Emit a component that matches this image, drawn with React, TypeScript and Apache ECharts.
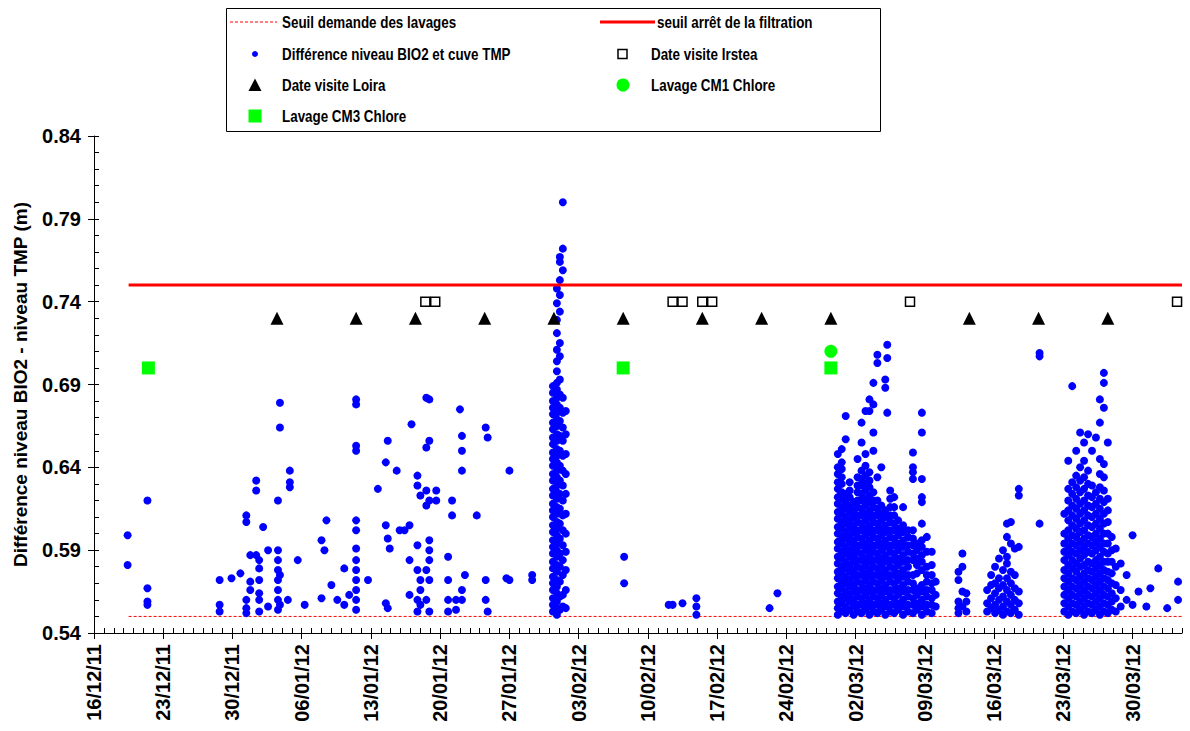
import { useEffect, useRef } from "react";
import * as echarts from "echarts";

// ---------- axes ----------
const X_MIN = 0; // days since 16/12/11
const X_MAX = 110; // 04/04/12
const Y_MIN = 0.54;
const Y_MAX = 0.84;
const xTickLabels = [
  "16/12/11", "23/12/11", "30/12/11", "06/01/12", "13/01/12", "20/01/12", "27/01/12", "03/02/12",
  "10/02/12", "17/02/12", "24/02/12", "02/03/12", "09/03/12", "16/03/12", "23/03/12", "30/03/12",
];
const xTickDays = [0, 7, 14, 21, 28, 35, 42, 49, 56, 63, 70, 77, 84, 91, 98, 105];
const yTickValues = [0.54, 0.59, 0.64, 0.69, 0.74, 0.79, 0.84];

// ---------- thresholds ----------
const seuilDemande = 0.55;
const seuilArret = 0.75;
const seuilStartDay = 3.5;

// ---------- events ----------
const loiraDays = [18.5, 26.5, 32.5, 39.5, 46.5, 53.5, 61.5, 67.5, 74.5, 88.5, 95.5, 102.5];
const loiraValue = 0.73;
const irsteaDays = [33.5, 34.5, 58.5, 59.5, 61.5, 62.5, 82.5, 109.5];
const irsteaValue = 0.74;
const cm1Days = [74.5];
const cm1Value = 0.71;
const cm3Days = [5.5, 53.5, 74.5];
const cm3Value = 0.7;

// ---------- BIO2 - TMP level difference: [day, values at that day] ----------
const bio2Dec: [number, number[]][] = [
  [3.4, [0.599, 0.581]],
  [5.4, [0.62, 0.567, 0.559, 0.557]],
  [12.7, [0.572, 0.557, 0.553]],
  [13.9, [0.573]],
  [14.8, [0.576]],
];

const bio2Jan: [number, number[]][] = [
  [15.4, [0.611, 0.607, 0.56, 0.555, 0.552]],
  [15.8, [0.587, 0.566, 0.571]],
  [16.4, [0.632, 0.626, 0.587]],
  [16.7, [0.579, 0.572, 0.584, 0.56, 0.553, 0.564]],
  [17.1, [0.604]],
  [17.6, [0.59, 0.556]],
  [18.6, [0.62, 0.59, 0.584, 0.578, 0.572, 0.566, 0.56, 0.554]],
  [18.8, [0.679, 0.664, 0.575, 0.557]],
  [19.6, [0.56]],
  [19.8, [0.638, 0.631, 0.628]],
  [20.6, [0.584]],
  [21.3, [0.557]],
  [23.0, [0.596, 0.561]],
  [23.3, [0.59]],
  [23.5, [0.608]],
  [24.0, [0.569]],
  [24.6, [0.56]],
  [25.3, [0.579, 0.557]],
  [25.8, [0.563]],
  [26.5, [0.681, 0.678, 0.653, 0.65, 0.608, 0.602, 0.591, 0.584, 0.578, 0.572, 0.566, 0.56, 0.554]],
  [27.7, [0.572]],
  [28.7, [0.627]],
  [29.5, [0.643, 0.605, 0.558]],
  [29.7, [0.656, 0.597, 0.555]],
  [29.9, [0.591]],
  [30.6, [0.638]],
  [30.9, [0.602]],
  [31.4, [0.602]],
  [31.9, [0.605, 0.584, 0.563]],
  [32.1, [0.666]],
  [32.7, [0.635, 0.629, 0.593, 0.578, 0.56, 0.553]],
  [33.0, [0.623, 0.572, 0.566, 0.557]],
  [33.6, [0.682, 0.652, 0.626, 0.617, 0.578, 0.56]],
  [33.9, [0.681, 0.656, 0.62, 0.596, 0.59, 0.584, 0.572, 0.553]],
  [34.6, [0.626, 0.62]],
  [35.8, [0.586, 0.572, 0.56, 0.553]],
  [36.2, [0.62, 0.611]],
  [36.6, [0.56, 0.554]],
  [37.0, [0.675]],
  [37.2, [0.659, 0.65, 0.638, 0.566, 0.56]],
  [37.5, [0.575]],
  [38.7, [0.611]],
  [39.6, [0.664, 0.572, 0.56]],
  [39.8, [0.658, 0.553]],
  [41.7, [0.573]],
  [42.0, [0.572, 0.638]],
  [44.3, [0.575, 0.572]],
];

const bio2Spike: [number, number[]][] = [
  [46.4, [0.553, 0.557, 0.561, 0.566, 0.57, 0.574, 0.579, 0.583, 0.588, 0.592, 0.596, 0.601, 0.605, 0.61, 0.614, 0.618, 0.623, 0.627, 0.632, 0.636, 0.641, 0.645, 0.649, 0.654, 0.658, 0.663, 0.667, 0.672, 0.676, 0.68, 0.685, 0.689]],
  [46.8, [0.551, 0.555, 0.559, 0.564, 0.568, 0.572, 0.577, 0.581, 0.586, 0.59, 0.594, 0.599, 0.603, 0.607, 0.612, 0.616, 0.621, 0.625, 0.629, 0.634, 0.638, 0.643, 0.647, 0.651, 0.656, 0.66, 0.665, 0.669, 0.673, 0.678, 0.682, 0.687, 0.691, 0.698, 0.704, 0.711, 0.721, 0.729, 0.739, 0.748]],
  [47.1, [0.554, 0.562, 0.571, 0.58, 0.588, 0.597, 0.606, 0.615, 0.624, 0.632, 0.641, 0.65, 0.659, 0.668, 0.676, 0.684, 0.693, 0.707, 0.715, 0.734, 0.744, 0.753, 0.764, 0.767]],
  [47.4, [0.556, 0.563, 0.575, 0.584, 0.593, 0.602, 0.611, 0.62, 0.629, 0.638, 0.647, 0.656, 0.664, 0.673, 0.682, 0.759, 0.772, 0.8]],
  [47.7, [0.555, 0.566, 0.578, 0.589, 0.6, 0.612, 0.624, 0.636, 0.648, 0.66, 0.674]],
];

const bio2Feb: [number, number[]][] = [
  [53.6, [0.586, 0.57]],
  [58.1, [0.557]],
  [58.5, [0.557]],
  [59.5, [0.558]],
  [60.9, [0.561, 0.556, 0.551]],
  [68.3, [0.555]],
  [69.1, [0.564]],
];

const bio2MarA: [number, number[]][] = [
  [75.2, [0.551, 0.555, 0.559, 0.564, 0.568, 0.573, 0.577, 0.582, 0.586, 0.591, 0.595, 0.6, 0.604, 0.609, 0.613, 0.618, 0.622, 0.627, 0.631, 0.636, 0.64, 0.648]],
  [75.6, [0.553, 0.558, 0.562, 0.567, 0.571, 0.576, 0.58, 0.585, 0.589, 0.594, 0.598, 0.603, 0.607, 0.612, 0.616, 0.621, 0.625, 0.63, 0.634, 0.639, 0.643, 0.651]],
  [76.0, [0.552, 0.556, 0.561, 0.565, 0.57, 0.574, 0.579, 0.583, 0.588, 0.592, 0.597, 0.601, 0.606, 0.61, 0.615, 0.619, 0.624, 0.657, 0.671]],
  [76.4, [0.554, 0.559, 0.563, 0.568, 0.572, 0.577, 0.581, 0.586, 0.59, 0.595, 0.599, 0.604, 0.608, 0.613, 0.617, 0.622, 0.626, 0.631]],
  [76.8, [0.551, 0.556, 0.56, 0.565, 0.569, 0.574, 0.578, 0.583, 0.587, 0.592, 0.596, 0.601, 0.605, 0.61, 0.614, 0.619]],
  [77.2, [0.553, 0.557, 0.562, 0.566, 0.571, 0.575, 0.58, 0.584, 0.589, 0.593, 0.598, 0.602, 0.607, 0.611, 0.616, 0.62, 0.625, 0.629, 0.634, 0.645]],
  [77.6, [0.552, 0.557, 0.561, 0.566, 0.57, 0.575, 0.579, 0.584, 0.588, 0.593, 0.597, 0.602, 0.606, 0.611, 0.615, 0.62, 0.624, 0.629, 0.633, 0.638, 0.655, 0.667]],
  [78.0, [0.554, 0.558, 0.563, 0.567, 0.572, 0.576, 0.581, 0.585, 0.59, 0.594, 0.599, 0.603, 0.608, 0.612, 0.617, 0.621, 0.626, 0.63, 0.635, 0.641, 0.648, 0.674]],
  [78.4, [0.551, 0.556, 0.56, 0.565, 0.569, 0.574, 0.578, 0.583, 0.587, 0.592, 0.596, 0.601, 0.605, 0.61, 0.614, 0.619, 0.623, 0.628, 0.632, 0.637, 0.674, 0.681]],
  [78.8, [0.553, 0.557, 0.562, 0.566, 0.571, 0.575, 0.58, 0.584, 0.589, 0.593, 0.598, 0.602, 0.607, 0.611, 0.616, 0.62, 0.625, 0.65, 0.661, 0.678, 0.691]],
  [79.2, [0.552, 0.557, 0.561, 0.566, 0.57, 0.575, 0.579, 0.584, 0.588, 0.593, 0.597, 0.602, 0.606, 0.611, 0.615, 0.62, 0.634, 0.703, 0.708]],
  [79.6, [0.554, 0.558, 0.563, 0.567, 0.572, 0.576, 0.581, 0.585, 0.59, 0.594, 0.599, 0.603, 0.608, 0.612, 0.617, 0.64]],
  [80.0, [0.551, 0.556, 0.56, 0.565, 0.569, 0.574, 0.578, 0.583, 0.587, 0.592, 0.596, 0.601, 0.605, 0.61, 0.614, 0.688, 0.693]],
  [80.2, [0.714, 0.706, 0.673]],
  [80.5, [0.553, 0.557, 0.562, 0.566, 0.571, 0.575, 0.58, 0.584, 0.589, 0.593, 0.598, 0.602, 0.607, 0.611, 0.616, 0.621, 0.626]],
  [80.9, [0.552, 0.557, 0.561, 0.566, 0.57, 0.575, 0.579, 0.584, 0.588, 0.593, 0.597, 0.602, 0.606, 0.611, 0.616, 0.622]],
  [81.3, [0.554, 0.558, 0.563, 0.567, 0.572, 0.576, 0.581, 0.585, 0.59, 0.594, 0.599, 0.603, 0.608]],
  [81.8, [0.551, 0.556, 0.56, 0.565, 0.569, 0.574, 0.578, 0.583, 0.587, 0.592, 0.596, 0.601, 0.605, 0.616]],
  [82.3, [0.553, 0.557, 0.562, 0.566, 0.571, 0.575, 0.58, 0.584, 0.589, 0.593, 0.598, 0.602]],
  [82.8, [0.552, 0.557, 0.561, 0.566, 0.57, 0.575, 0.584, 0.588, 0.593, 0.597, 0.602, 0.633, 0.637, 0.64, 0.649]],
  [83.2, [0.554, 0.558, 0.563, 0.567, 0.576, 0.581, 0.585, 0.59, 0.594]],
  [83.7, [0.551, 0.556, 0.56, 0.565, 0.569, 0.578, 0.583, 0.587, 0.592, 0.596, 0.606, 0.619, 0.622, 0.633, 0.661, 0.673]],
  [84.2, [0.553, 0.557, 0.562, 0.566, 0.571, 0.575, 0.58, 0.589, 0.598]],
  [84.7, [0.552, 0.557, 0.561, 0.566, 0.57, 0.575, 0.581, 0.589]],
  [85.1, [0.556, 0.563, 0.571]],
];

const bio2MarB: [number, number[]][] = [
  [87.4, [0.552, 0.555, 0.559, 0.572, 0.577]],
  [87.8, [0.556, 0.565, 0.58, 0.588]],
  [88.2, [0.553, 0.559, 0.564]],
  [90.3, [0.553, 0.558, 0.566]],
  [90.7, [0.555, 0.561, 0.569, 0.575]],
  [91.1, [0.552, 0.557, 0.564, 0.57, 0.58]],
  [91.5, [0.554, 0.56, 0.567, 0.573, 0.585]],
  [91.9, [0.551, 0.556, 0.562, 0.569, 0.578, 0.59]],
  [92.3, [0.553, 0.559, 0.566, 0.573, 0.582, 0.586, 0.598, 0.606]],
  [92.7, [0.552, 0.557, 0.563, 0.57, 0.577, 0.594, 0.607]],
  [93.1, [0.554, 0.56, 0.567, 0.575, 0.591]],
  [93.5, [0.551, 0.558, 0.565, 0.592, 0.623, 0.627]],
  [95.6, [0.709, 0.707, 0.606]],
];

const bio2MarC: [number, number[]][] = [
  [98.1, [0.553, 0.558, 0.563, 0.568, 0.573, 0.578, 0.584, 0.589, 0.594, 0.6, 0.612]],
  [98.5, [0.551, 0.556, 0.561, 0.566, 0.571, 0.576, 0.581, 0.587, 0.592, 0.597, 0.602, 0.608, 0.614, 0.62, 0.627, 0.644]],
  [98.9, [0.553, 0.558, 0.563, 0.568, 0.573, 0.579, 0.584, 0.589, 0.594, 0.599, 0.605, 0.611, 0.617, 0.624, 0.631, 0.689]],
  [99.3, [0.552, 0.557, 0.562, 0.567, 0.572, 0.577, 0.582, 0.588, 0.593, 0.598, 0.603, 0.609, 0.615, 0.621, 0.628, 0.635, 0.65]],
  [99.7, [0.554, 0.559, 0.564, 0.569, 0.574, 0.58, 0.585, 0.59, 0.595, 0.601, 0.606, 0.612, 0.618, 0.625, 0.632, 0.64, 0.661]],
  [100.1, [0.551, 0.556, 0.561, 0.566, 0.571, 0.576, 0.581, 0.587, 0.592, 0.597, 0.602, 0.608, 0.614, 0.62, 0.627, 0.634, 0.644, 0.655]],
  [100.5, [0.553, 0.558, 0.563, 0.568, 0.573, 0.578, 0.583, 0.589, 0.594, 0.599, 0.605, 0.611, 0.617, 0.623, 0.63, 0.638, 0.66]],
  [100.9, [0.552, 0.557, 0.562, 0.567, 0.572, 0.577, 0.582, 0.588, 0.593, 0.598, 0.604, 0.61, 0.616, 0.622, 0.629, 0.65]],
  [101.3, [0.554, 0.559, 0.564, 0.569, 0.574, 0.579, 0.584, 0.59, 0.595, 0.6, 0.606, 0.612, 0.618, 0.625, 0.658]],
  [101.7, [0.551, 0.556, 0.561, 0.566, 0.571, 0.576, 0.581, 0.586, 0.592, 0.597, 0.603, 0.609, 0.615, 0.621, 0.628, 0.636, 0.645, 0.667, 0.681]],
  [102.1, [0.553, 0.558, 0.563, 0.568, 0.573, 0.578, 0.583, 0.589, 0.594, 0.6, 0.606, 0.612, 0.619, 0.626, 0.634, 0.642, 0.676, 0.691, 0.697]],
  [102.5, [0.552, 0.557, 0.562, 0.567, 0.572, 0.577, 0.583, 0.588, 0.594, 0.6, 0.607, 0.614, 0.621, 0.655]],
  [102.9, [0.554, 0.559, 0.564, 0.57, 0.576, 0.583, 0.59, 0.598]],
  [103.3, [0.553, 0.561, 0.569, 0.58, 0.591]],
  [103.8, [0.556, 0.566, 0.582]],
  [104.4, [0.56, 0.575]],
  [105.0, [0.557, 0.599]],
  [105.6, [0.565]],
  [106.4, [0.556]],
  [106.8, [0.567]],
  [107.6, [0.579]],
  [108.5, [0.555]],
  [109.6, [0.571, 0.56]],
];

// ---------- helpers ----------
const toPoints = (cols: [number, number[]][]) => cols.flatMap(([d, vs]) => vs.map((v) => [d, v]));
const atValue = (days: number[], v: number) => days.map((d) => [d, v]);

const SANS = "'Liberation Sans', Arial, Helvetica, sans-serif";

export default function App() {
  const ref = useRef<HTMLDivElement>(null);

  useEffect(() => {
    if (!ref.current) return;
    const chart = echarts.init(ref.current, null, { renderer: "svg" });

    const legendText = (text: string, x: number, y: number) => ({
      type: "text",
      x,
      y,
      scaleY: 1.3,
      z: 102,
      style: {
        text,
        fill: "#000",
        fontWeight: "bold",
        fontFamily: SANS,
        fontSize: 13.4,
        align: "left",
        verticalAlign: "middle",
        textAlign: "left",
        textVerticalAlign: "middle",
      },
    });

    const bio2Points = [
      ...toPoints(bio2Dec),
      ...toPoints(bio2Jan),
      ...toPoints(bio2Spike),
      ...toPoints(bio2Feb),
      ...toPoints(bio2MarA),
      ...toPoints(bio2MarB),
      ...toPoints(bio2MarC),
    ];

    const r1 = 22, r2 = 54, r3 = 85, r4 = 116;
    const c1 = 255, c1t = 282, c2t = 651;

    chart.setOption({
      animation: false,
      backgroundColor: "#ffffff",
      grid: { left: 94, right: 8, top: 136, bottom: 98, containLabel: false },
      xAxis: [
        {
          type: "value",
          min: X_MIN,
          max: X_MAX,
          position: "bottom",
          axisLine: { show: true, lineStyle: { color: "#000", width: 1 } },
          axisTick: { show: true, customValues: xTickDays, length: 6, lineStyle: { color: "#000" } },
          axisLabel: {
            customValues: xTickDays,
            formatter: (v: number) => xTickLabels[Math.round(v / 7)] ?? "",
            rotate: 90,
            margin: 11,
            color: "#000",
            fontSize: 20,
            fontWeight: "bold",
            fontFamily: SANS,
          },
          splitLine: { show: false },
        },
        {
          type: "value",
          min: X_MIN,
          max: X_MAX,
          interval: 1,
          position: "bottom",
          offset: 0,
          axisLine: { show: false },
          axisTick: { show: true, inside: true, length: 5, lineStyle: { color: "#000" } },
          axisLabel: { show: false },
          splitLine: { show: false },
        },
      ],
      yAxis: [
        {
          type: "value",
          min: Y_MIN,
          max: Y_MAX,
          position: "left",
          name: "Différence niveau BIO2 - niveau TMP (m)",
          nameLocation: "middle",
          nameRotate: 90,
          nameGap: 64,
          nameTextStyle: { color: "#000", fontSize: 19, fontWeight: "bold", fontFamily: SANS },
          axisLine: { show: true, lineStyle: { color: "#000", width: 1 } },
          axisTick: { show: true, customValues: yTickValues, length: 6, lineStyle: { color: "#000" } },
          axisLabel: {
            customValues: yTickValues,
            formatter: (v: number) => v.toFixed(2),
            margin: 13,
            color: "#000",
            fontSize: 20,
            fontWeight: "bold",
            fontFamily: SANS,
          },
          splitLine: { show: false },
        },
        {
          type: "value",
          min: Y_MIN,
          max: Y_MAX,
          interval: 0.01,
          position: "left",
          offset: 0,
          axisLine: { show: false },
          axisTick: { show: true, inside: true, length: 5, lineStyle: { color: "#000" } },
          axisLabel: { show: false },
          splitLine: { show: false },
        },
      ],
      series: [
        {
          name: "Seuil demande des lavages",
          type: "line",
          data: [[seuilStartDay, seuilDemande], [X_MAX, seuilDemande]],
          symbol: "none",
          lineStyle: { color: "#ff0000", width: 1, type: [3, 2] },
          z: 2,
        },
        {
          name: "Différence niveau BIO2 et cuve TMP",
          type: "scatter",
          data: bio2Points,
          symbol: "circle",
          symbolSize: 8,
          itemStyle: { color: "#0000ff", opacity: 1 },
          z: 3,
        },
        {
          name: "seuil arrêt de la filtration",
          type: "line",
          data: [[seuilStartDay, seuilArret], [X_MAX, seuilArret]],
          symbol: "none",
          lineStyle: { color: "#ff0000", width: 3 },
          z: 4,
        },
        {
          name: "Date visite Irstea",
          type: "scatter",
          data: atValue(irsteaDays, irsteaValue),
          symbol: "rect",
          symbolSize: 9,
          itemStyle: { color: "#ffffff", borderColor: "#000", borderWidth: 1.5, opacity: 1 },
          z: 5,
        },
        {
          name: "Date visite Loira",
          type: "scatter",
          data: atValue(loiraDays, loiraValue),
          symbol: "triangle",
          symbolSize: 13,
          itemStyle: { color: "#000", opacity: 1 },
          z: 5,
        },
        {
          name: "Lavage CM1 Chlore",
          type: "scatter",
          data: atValue(cm1Days, cm1Value),
          symbol: "circle",
          symbolSize: 13,
          itemStyle: { color: "#00ff00", opacity: 1 },
          z: 5,
        },
        {
          name: "Lavage CM3 Chlore",
          type: "scatter",
          data: atValue(cm3Days, cm3Value),
          symbol: "rect",
          symbolSize: 13,
          itemStyle: { color: "#00ff00", opacity: 1 },
          z: 5,
        },
      ],
      graphic: [
        {
          type: "rect",
          shape: { x: 226.5, y: 8.5, width: 654, height: 123 },
          style: { fill: "#ffffff", stroke: "#000", lineWidth: 1 },
          z: 100,
        },
        {
          type: "line",
          shape: { x1: 230, y1: r1, x2: 277, y2: r1 },
          style: { stroke: "#ff0000", lineWidth: 1, lineDash: [3, 2] },
          z: 101,
        },
        legendText("Seuil demande des lavages", c1t, r1),
        {
          type: "line",
          shape: { x1: 600, y1: r1, x2: 655, y2: r1 },
          style: { stroke: "#ff0000", lineWidth: 3 },
          z: 101,
        },
        legendText("seuil arrêt de la filtration", c2t + 6, r1),
        { type: "circle", shape: { cx: c1, cy: r2, r: 3 }, style: { fill: "#0000ff" }, z: 101 },
        legendText("Différence niveau BIO2 et cuve TMP", c1t, r2),
        {
          type: "rect",
          shape: { x: 618, y: r2 - 4.5, width: 9, height: 9 },
          style: { fill: "#fff", stroke: "#000", lineWidth: 1.5 },
          z: 101,
        },
        legendText("Date visite Irstea", c2t, r2),
        {
          type: "polygon",
          shape: { points: [[c1, r3 - 6.5], [c1 + 6.5, r3 + 6], [c1 - 6.5, r3 + 6]] },
          style: { fill: "#000" },
          z: 101,
        },
        legendText("Date visite Loira", c1t, r3),
        { type: "circle", shape: { cx: 623, cy: r3, r: 6.5 }, style: { fill: "#00ff00" }, z: 101 },
        legendText("Lavage CM1 Chlore", c2t, r3),
        {
          type: "rect",
          shape: { x: c1 - 6.5, y: r4 - 6.5, width: 13, height: 13 },
          style: { fill: "#00ff00" },
          z: 101,
        },
        legendText("Lavage CM3 Chlore", c1t, r4),
      ],
    });

    return () => chart.dispose();
  }, []);

  return (
    <div
      ref={ref}
      style={{ position: "absolute", left: 0, top: 0, width: 1190, height: 731, background: "#fff" }}
    />
  );
}
